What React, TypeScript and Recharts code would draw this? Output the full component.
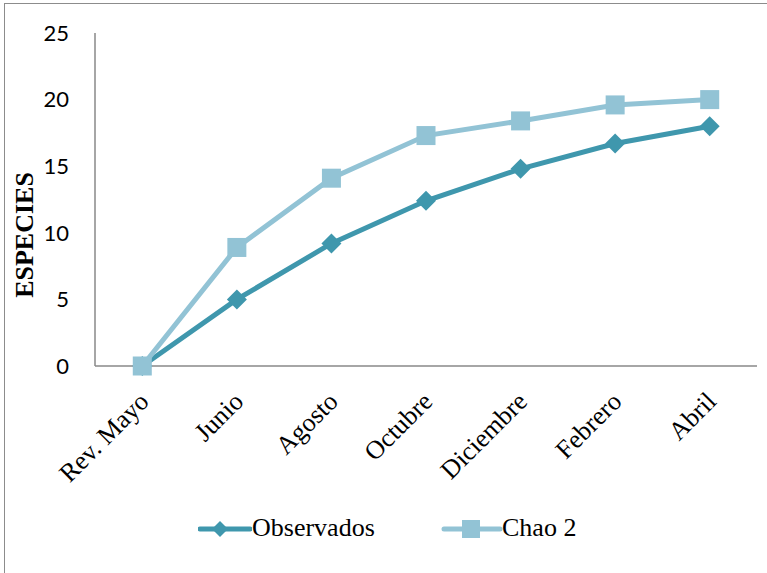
import { CartesianGrid, Legend, Line, LineChart, XAxis, YAxis } from "recharts";

const months = ["Rev. Mayo", "Junio", "Agosto", "Octubre", "Diciembre", "Febrero", "Abril"];
const observados = [0, 5, 9.2, 12.4, 14.8, 16.7, 18];
const chao2 = [0, 8.9, 14.1, 17.3, 18.4, 19.6, 20];
const yTicks = [0, 5, 10, 15, 20, 25];

const DARK = "#3f97ad";
const LIGHT = "#92c3d5";
const AXIS = "#898989";

const data = months.map((m, i) => ({
  month: m,
  observados: observados[i],
  chao2: chao2[i],
}));

const Diamond = (props: any) => {
  const { cx, cy } = props;
  if (cx == null || cy == null) return null;
  const r = 10;
  return (
    <path
      d={`M${cx},${cy - r} L${cx + r},${cy} L${cx},${cy + r} L${cx - r},${cy} Z`}
      fill={DARK}
    />
  );
};

const Square = (props: any) => {
  const { cx, cy } = props;
  if (cx == null || cy == null) return null;
  const s = 19;
  return <rect x={cx - s / 2} y={cy - s / 2} width={s} height={s} fill={LIGHT} />;
};

const MonthTick = (props: any) => {
  const { x, y, payload } = props;
  return (
    <g transform={`translate(${x + 8},${y + 29})`}>
      <text
        transform="rotate(-45)"
        textAnchor="end"
        fill="#000"
        fontFamily="'Liberation Serif', serif"
        fontSize={26}
      >
        {payload.value}
      </text>
    </g>
  );
};

const LegendBox = () => (
  <div style={{ position: "relative", width: 767, height: 40, fontFamily: "'Liberation Serif', serif", fontSize: 26 }}>
    <svg style={{ position: "absolute", left: 198, top: 10 }} width={54} height={20}>
      <line x1={2} y1={10} x2={52} y2={10} stroke={DARK} strokeWidth={5} strokeLinecap="round" />
      <path d="M22,2 L30,10 L22,18 L14,10 Z" fill={DARK} />
    </svg>
    <span style={{ position: "absolute", left: 252, top: 4, lineHeight: "30px" }}>Observados</span>
    <svg style={{ position: "absolute", left: 441, top: 10 }} width={62} height={20}>
      <line x1={3} y1={10} x2={59} y2={10} stroke={LIGHT} strokeWidth={5} strokeLinecap="round" />
      <rect x={21} y={1} width={18} height={18} fill={LIGHT} />
    </svg>
    <span style={{ position: "absolute", left: 502, top: 4, lineHeight: "30px" }}>Chao 2</span>
  </div>
);

export default function App() {
  return (
    <div style={{ position: "fixed", left: 0, top: 0, width: 767, height: 573, overflow: "hidden", background: "#fff" }}>
      <div
        style={{
          position: "absolute",
          left: 4,
          top: 3,
          width: 820,
          height: 620,
          border: "1px solid #8c8c8c",
        }}
      />
      <div style={{ position: "absolute", left: 0, top: 0 }}>
        <LineChart
          width={767}
          height={573}
          data={data}
          margin={{ top: 33, right: 10, bottom: 24, left: 0 }}
        >
          <CartesianGrid stroke="none" />
          <XAxis
            dataKey="month"
            scale="band"
            stroke={AXIS}
            strokeWidth={1.5}
            tickLine={false}
            tick={<MonthTick />}
            height={143}
            interval={0}
          />
          <YAxis
            domain={[0, 25]}
            ticks={yTicks}
            stroke={AXIS}
            strokeWidth={1.5}
            tickLine={false}
            tickSize={0}
            tickMargin={26}
            width={95}
            tick={{ fill: "#000", fontFamily: "Lato, sans-serif", fontSize: 22 }}
            label={() => (
              <text
                x={33}
                y={235}
                transform="rotate(-90 33 235)"
                textAnchor="middle"
                fontFamily="'Liberation Serif', serif"
                fontWeight="bold"
                fontSize={26}
                fill="#000"
              >
                ESPECIES
              </text>
            )}
          />
          <Legend verticalAlign="bottom" content={<LegendBox />} />
          <Line
            dataKey="observados"
            name="Observados"
            stroke={DARK}
            strokeWidth={5}
            dot={<Diamond />}
            activeDot={false}
            isAnimationActive={false}
          />
          <Line
            dataKey="chao2"
            name="Chao 2"
            stroke={LIGHT}
            strokeWidth={5}
            dot={<Square />}
            activeDot={false}
            isAnimationActive={false}
          />
        </LineChart>
      </div>
    </div>
  );
}
